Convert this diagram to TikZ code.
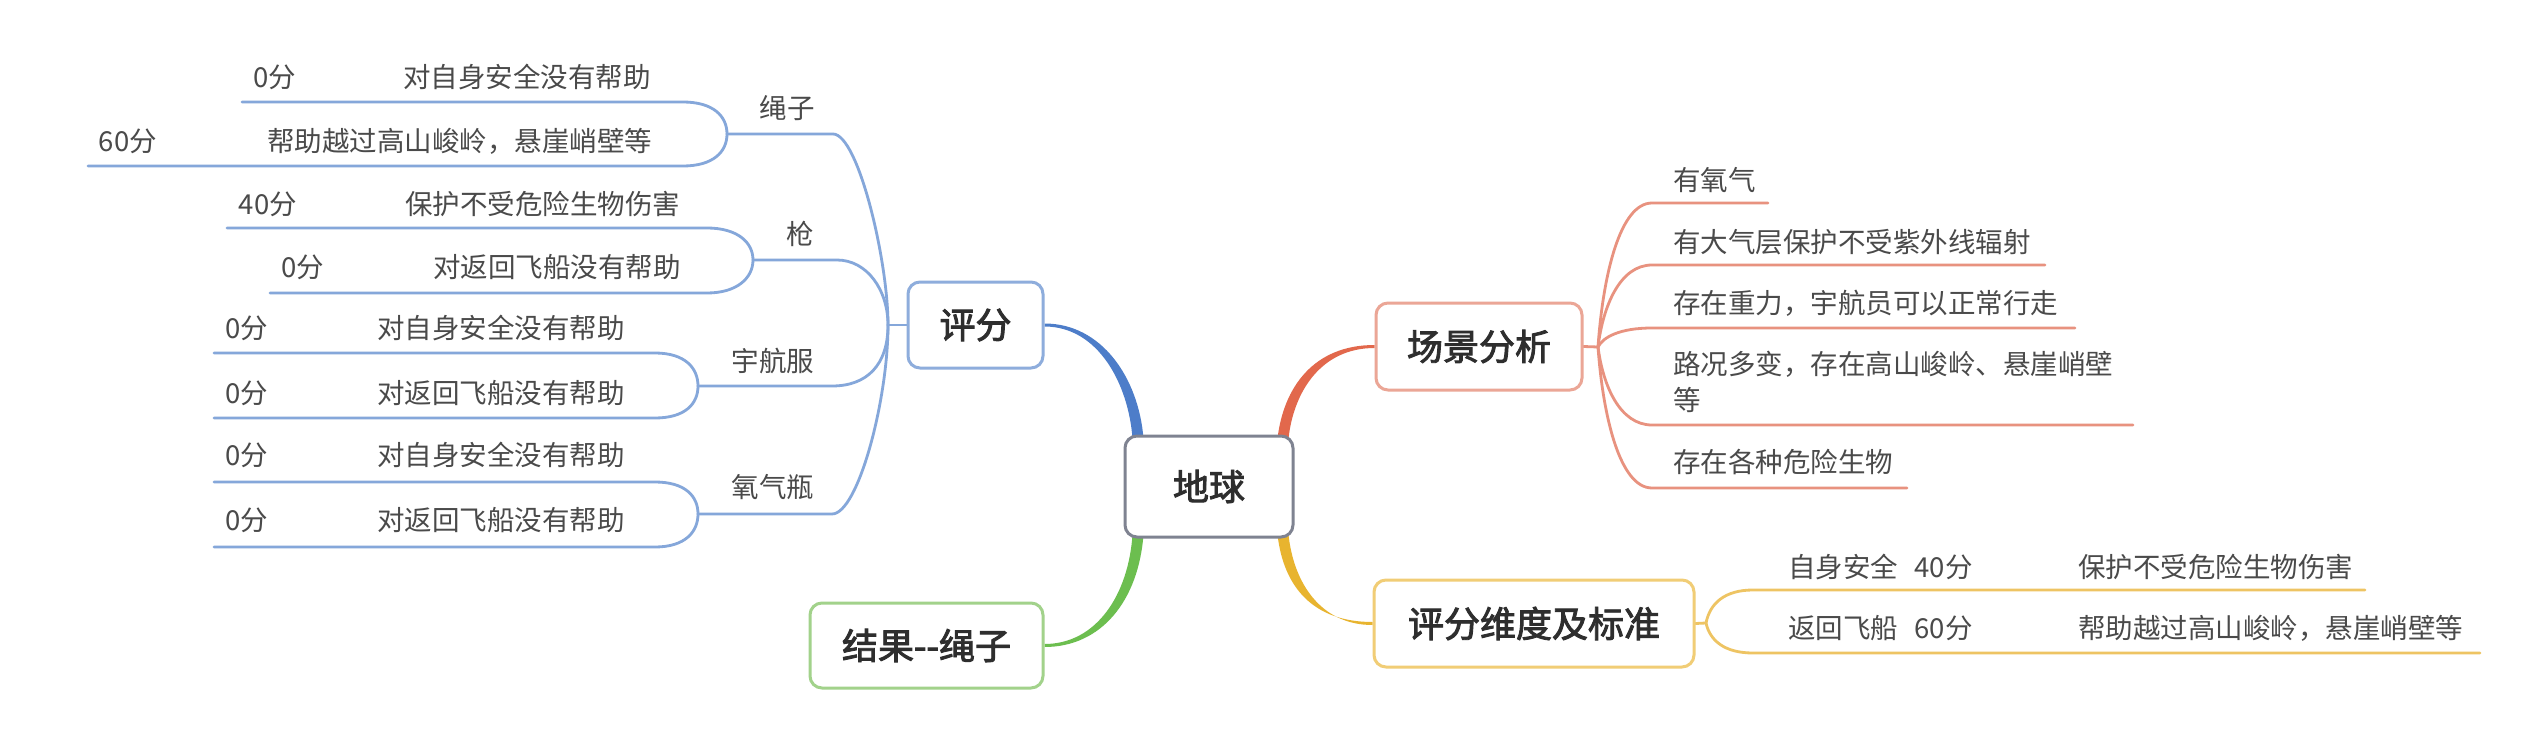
\documentclass[tikz,border=0pt]{standalone}
\usepackage{fontspec}
\setmainfont[AutoFakeBold=2.5]{Noto Sans CJK SC}
\pgfdeclarelayer{background}
\pgfsetlayers{background,main}
\definecolor{bthin}{HTML}{85A7DA}
\definecolor{bthick}{HTML}{4D7DC9}
\definecolor{rthin}{HTML}{E8927F}
\definecolor{rthick}{HTML}{E2684C}
\definecolor{ythin}{HTML}{EEC463}
\definecolor{ythick}{HTML}{E8B42F}
\definecolor{gthick}{HTML}{6CBE4F}
\definecolor{bbox}{HTML}{8EADDC}
\definecolor{rbox}{HTML}{EBA696}
\definecolor{ybox}{HTML}{F1CD76}
\definecolor{gbox}{HTML}{A2D28B}
\definecolor{ebox}{HTML}{7F8391}
\definecolor{txt}{HTML}{4A4A4A}
\definecolor{dark}{HTML}{2E2E2E}
\begin{document}
\begin{tikzpicture}[x=1pt,y=-1pt,
  every node/.style={inner sep=0pt, font=\fontsize{27.5}{32}\selectfont, text=txt},
  topic/.style={draw, line width=3pt, rounded corners=12pt, fill=white,
    font=\fontsize{36}{42}\selectfont\bfseries, text=dark},
  lbl/.style={anchor=west},
  bl/.style={draw=bthin, line width=2.8pt, line cap=round},
  rl/.style={draw=rthin, line width=2.8pt, line cap=round},
  yl/.style={draw=ythin, line width=2.8pt, line cap=round}]
\useasboundingbox (0,0) rectangle (2524,754);

% ---------- main topics ----------
\node[topic, draw=ebox, minimum width=168pt, minimum height=101pt] (earth) at (1209,486.5) {地球};
\node[topic, draw=bbox, minimum width=135pt, minimum height=86pt] (pf) at (975.5,325) {评分};
\node[topic, draw=rbox, minimum width=206pt, minimum height=87pt] (cj) at (1479,346.5) {场景分析};
\node[topic, draw=ybox, minimum width=320pt, minimum height=87pt] (wd) at (1534,623.5) {评分维度及标准};
\node[topic, draw=gbox, minimum width=233pt, minimum height=85pt] (jg) at (926.5,645.5) {结果{-}{-}绳子};

% ---------- left branch texts ----------
\node (l1) at (787,108) {绳子};
\node (l2) at (800,234) {枪};
\node (l3) at (773,361) {宇航服};
\node (l4) at (773,487) {氧气瓶};

\node (a1s) at (275,77) {0分};
\node[lbl] (a1t) at (403,77) {对自身安全没有帮助};
\node (a2s) at (128,141) {60分};
\node[lbl] (a2t) at (267,141) {帮助越过高山峻岭，悬崖峭壁等};
\node (b1s) at (268,204) {40分};
\node[lbl] (b1t) at (405,204) {保护不受危险生物伤害};
\node (b2s) at (303,267) {0分};
\node[lbl] (b2t) at (433,267) {对返回飞船没有帮助};
\node (c1s) at (247,328) {0分};
\node[lbl] (c1t) at (377,328) {对自身安全没有帮助};
\node (c2s) at (247,393) {0分};
\node[lbl] (c2t) at (377,393) {对返回飞船没有帮助};
\node (d1s) at (247,455) {0分};
\node[lbl] (d1t) at (377,455) {对自身安全没有帮助};
\node (d2s) at (247,520) {0分};
\node[lbl] (d2t) at (377,520) {对返回飞船没有帮助};

% ---------- right branch texts ----------
\node[lbl] (r1t) at (1673,180) {有氧气};
\node[lbl] (r2t) at (1673,242) {有大气层保护不受紫外线辐射};
\node[lbl] (r3t) at (1673,303) {存在重力，宇航员可以正常行走};
\node[lbl, align=left, font=\fontsize{27.5}{36}\selectfont] (r4t) at (1673,381.5) {路况多变，存在高山峻岭、悬崖峭壁\\等};
\node[lbl] (r5t) at (1673,462) {存在各种危险生物};

\node[lbl] (y1s) at (1788,567) {自身安全\hspace{0.6em}40分};
\node[lbl] (y1t) at (2078,567) {保护不受危险生物伤害};
\node[lbl] (y2s) at (1788,628) {返回飞船\hspace{0.6em}60分};
\node[lbl] (y2t) at (2078,628) {帮助越过高山峻岭，悬崖峭壁等};

% ---------- coordinates ----------
\coordinate (J0) at (888,325);
\coordinate (J1) at (727,134);  \coordinate (B1) at (833,134);
\coordinate (J2) at (753,260);  \coordinate (B2) at (837,260);
\coordinate (J3) at (698,386);  \coordinate (B3) at (832,386);
\coordinate (J4) at (698,514);  \coordinate (B4) at (832,514);
\coordinate (a1) at (242,102);  \coordinate (a1e) at (683,102);
\coordinate (a2) at (88,166);   \coordinate (a2e) at (683,166);
\coordinate (b1) at (227,228);  \coordinate (b1e) at (707,228);
\coordinate (b2) at (270,293);  \coordinate (b2e) at (707,293);
\coordinate (c1) at (214,353);  \coordinate (c1e) at (655,353);
\coordinate (c2) at (214,418);  \coordinate (c2e) at (655,418);
\coordinate (d1) at (214,482);  \coordinate (d1e) at (655,482);
\coordinate (d2) at (214,547);  \coordinate (d2e) at (655,547);

\coordinate (JR) at (1598,347);
\coordinate (r1) at (1652,203); \coordinate (r1e) at (1768,203);
\coordinate (r2) at (1652,265); \coordinate (r2e) at (2045,265);
\coordinate (r3) at (1652,328); \coordinate (r3e) at (2075,328);
\coordinate (r4) at (1652,425); \coordinate (r4e) at (2133,425);
\coordinate (r5) at (1652,488); \coordinate (r5e) at (1907,488);

\coordinate (JY) at (1706,623);
\coordinate (y1) at (1753,590); \coordinate (y1e) at (2365,590);
\coordinate (y2) at (1753,653); \coordinate (y2e) at (2480,653);

\begin{pgfonlayer}{background}
\fill[white] (0,0) rectangle (2524,754);

% ---------- thick main connectors ----------
\fill[bthick] ([yshift=1.5pt]pf.east) .. controls +(57,0) and +(-5,-61) .. ([xshift=20pt,yshift=-4pt]earth.north west)
  -- ([xshift=9pt,yshift=-4pt]earth.north west) .. controls +(-4,-54) and +(54,0) .. ([yshift=-1.5pt]pf.east) -- cycle;
\fill[gthick] ([xshift=9pt,yshift=4pt]earth.south west) .. controls +(-4,60) and +(52,0) .. ([yshift=1.5pt]jg.east)
  -- ([yshift=-1.5pt]jg.east) .. controls +(57,0) and +(-5,66) .. ([xshift=20pt,yshift=4pt]earth.south west) -- cycle;
\fill[rthick] ([xshift=-17pt,yshift=-4pt]earth.north east) .. controls +(6,-51) and +(-61,0) .. ([yshift=1.5pt]cj.west)
  -- ([yshift=-1.5pt]cj.west) .. controls +(-54,0) and +(5,-46) .. ([xshift=-6pt,yshift=-4pt]earth.north east) -- cycle;
\fill[ythick] ([xshift=-17pt,yshift=4pt]earth.south east) .. controls +(6,53) and +(-59,0) .. ([yshift=1.5pt]wd.west)
  -- ([yshift=-1.5pt]wd.west) .. controls +(-52,0) and +(5,48) .. ([xshift=-6pt,yshift=4pt]earth.south east) -- cycle;

% ---------- left (blue) ----------
\draw[bl] (J0) -- (pf.west);
\draw[bl] (J1) -- (B1) .. controls +(25,0) and +(0,-65) .. (J0);
\draw[bl] (J2) -- (B2) .. controls +(30,0) and +(0,-35) .. (J0);
\draw[bl] (J3) -- (B3) .. controls +(35,0) and +(0,40) .. (J0);
\draw[bl] (J4) -- (B4) .. controls +(26,0) and +(0,75) .. (J0);
\draw[bl] (a1) -- (a1e) .. controls +(30,0) and +(0,-18) .. (J1);
\draw[bl] (a2) -- (a2e) .. controls +(30,0) and +(0,18) .. (J1);
\draw[bl] (b1) -- (b1e) .. controls +(30,0) and +(0,-18) .. (J2);
\draw[bl] (b2) -- (b2e) .. controls +(30,0) and +(0,18) .. (J2);
\draw[bl] (c1) -- (c1e) .. controls +(30,0) and +(0,-18) .. (J3);
\draw[bl] (c2) -- (c2e) .. controls +(30,0) and +(0,18) .. (J3);
\draw[bl] (d1) -- (d1e) .. controls +(30,0) and +(0,-18) .. (J4);
\draw[bl] (d2) -- (d2e) .. controls +(30,0) and +(0,18) .. (J4);

% ---------- right (red) ----------
\draw[rl] (cj.east) -- (JR);
\draw[rl] (JR) .. controls +(5,-72) and +(-32,0) .. (r1) -- (r1e);
\draw[rl] (JR) .. controls +(5,-41) and +(-32,0) .. (r2) -- (r2e);
\draw[rl] (JR) .. controls +(5,-10) and +(-32,0) .. (r3) -- (r3e);
\draw[rl] (JR) .. controls +(5,39) and +(-32,0) .. (r4) -- (r4e);
\draw[rl] (JR) .. controls +(5,70) and +(-32,0) .. (r5) -- (r5e);

% ---------- right (yellow) ----------
\draw[yl] (wd.east) -- (JY);
\draw[yl] (JY) .. controls +(4,-20) and +(-28,0) .. (y1) -- (y1e);
\draw[yl] (JY) .. controls +(4,18) and +(-28,0) .. (y2) -- (y2e);
\end{pgfonlayer}
\end{tikzpicture}
\end{document}
